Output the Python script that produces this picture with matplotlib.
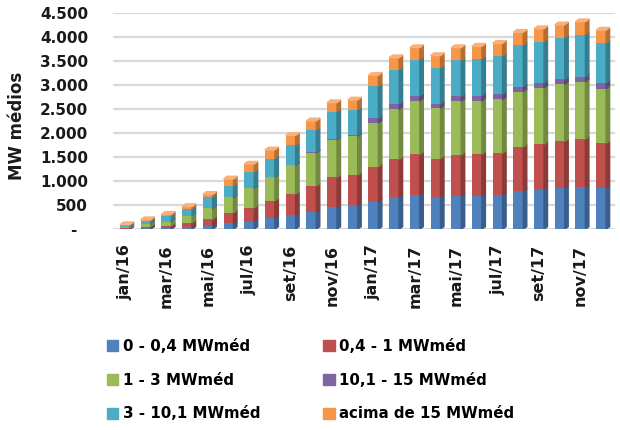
import matplotlib.pyplot as plt
from matplotlib.patches import Patch, Polygon
from matplotlib.ticker import FuncFormatter
import numpy as np

plt.rcParams['font.family'] = ['DejaVu Sans']
plt.rcParams['font.weight'] = 'bold'

meses = ['jan/16', 'fev/16', 'mar/16', 'abr/16', 'mai/16', 'jun/16',
         'jul/16', 'ago/16', 'set/16', 'out/16', 'nov/16', 'dez/16',
         'jan/17', 'fev/17', 'mar/17', 'abr/17', 'mai/17', 'jun/17',
         'jul/17', 'ago/17', 'set/17', 'out/17', 'nov/17', 'dez/17']

# MW médios por faixa de consumo (empilhados de baixo para cima)
faixa_0_04 = [10, 20, 25, 40, 65, 125, 160, 230, 295, 365, 455, 505,
              575, 665, 715, 665, 695, 700, 715, 795, 830, 865, 885, 865]
faixa_04_1 = [15, 35, 50, 95, 145, 220, 280, 365, 435, 535, 625, 625,
              730, 790, 845, 810, 850, 865, 865, 920, 940, 965, 990, 925]
faixa_1_3 = [30, 55, 85, 140, 225, 320, 415, 500, 605, 695, 790, 810,
             915, 1045, 1110, 1045, 1125, 1110, 1125, 1155, 1175, 1190, 1200, 1140]
faixa_101_15 = [0, 0, 0, 0, 5, 5, 5, 5, 10, 15, 20, 20,
                90, 105, 105, 95, 105, 110, 110, 105, 105, 105, 105, 120]
faixa_3_101 = [30, 60, 115, 155, 235, 230, 340, 375, 405, 455, 555, 535,
               670, 720, 760, 750, 745, 770, 790, 865, 860, 865, 875, 830]
faixa_acima_15 = [12, 30, 40, 45, 55, 150, 160, 180, 205, 195, 195, 200,
                  230, 250, 250, 255, 265, 260, 270, 265, 270, 270, 270, 270]

series = [
    ('0 - 0,4 MWméd', faixa_0_04, '#4F81BD', '#395E8C'),
    ('0,4 - 1 MWméd', faixa_04_1, '#C0504D', '#8C3A38'),
    ('1 - 3 MWméd', faixa_1_3, '#9BBB59', '#718A40'),
    ('10,1 - 15 MWméd', faixa_101_15, '#8064A2', '#5D4977'),
    ('3 - 10,1 MWméd', faixa_3_101, '#4BACC6', '#357E92'),
    ('acima de 15 MWméd', faixa_acima_15, '#F79646', '#B96E30'),
]

fig = plt.figure(figsize=(6.2, 4.3), dpi=100)
ax = fig.add_axes([113 / 620, 1 - 229.3 / 430, 502 / 620, 216 / 430])

x = np.arange(len(meses))
w = 0.48
dx, dy = 0.17, 55  # profundidade das faces laterais (efeito 3D)

for v in range(0, 5000, 500):
    ax.axhline(v, color='#D9D9D9', lw=1.6, zorder=0)

base = np.zeros(len(meses))
for nome, vals, cor, lado in series:
    vals = np.array(vals, dtype=float)
    ax.bar(x, vals, w, bottom=base, color=cor, zorder=2)
    for xi, b, h in zip(x, base, vals):
        if h <= 0:
            continue
        ax.add_patch(Polygon([(xi + w / 2, b), (xi + w / 2 + dx, b + dy),
                              (xi + w / 2 + dx, b + h + dy), (xi + w / 2, b + h)],
                             closed=True, color=lado, zorder=2))
    base += vals

# tampa superior das colunas
for xi, t in zip(x, base):
    ax.add_patch(Polygon([(xi - w / 2, t), (xi - w / 2 + dx, t + dy),
                          (xi + w / 2 + dx, t + dy), (xi + w / 2, t)],
                         closed=True, color='#F9B07A', zorder=3))

ax.set_xlim(-0.58, 23.67)
ax.set_ylim(0, 4500)
for s in ax.spines.values():
    s.set_visible(False)

ax.set_yticks(range(0, 5000, 500))
ax.yaxis.set_major_formatter(FuncFormatter(
    lambda v, p: '-  ' if v == 0 else f'{v:,.0f}'.replace(',', '.')))
ax.tick_params(axis='y', length=0, pad=18, labelsize=11, labelcolor='#1a1a1a')

ax.set_xticks(x[::2])
ax.set_xticklabels(meses[::2], rotation=90)
ax.tick_params(axis='x', length=0, pad=11, labelsize=11.5, labelcolor='#1a1a1a')

fig.text(17 / 620, 1 - 126 / 430, 'MW médios', rotation=90, ha='center',
         va='center', fontsize=12, fontweight='bold', color='#1a1a1a')

handles = [Patch(color=c) for _, _, c, _ in series]
labels = [n for n, _, _, _ in series]
ordem = [0, 2, 4, 1, 3, 5]
fig.legend([handles[i] for i in ordem], [labels[i] for i in ordem], ncol=2,
           loc='upper left', bbox_to_anchor=(107 / 620, 1 - 339 / 430),
           frameon=False, fontsize=10.8, handlelength=0.75, handleheight=0.75,
           handletextpad=0.3, columnspacing=4.2, labelspacing=1.25,
           borderaxespad=0, borderpad=0)

fig.savefig('out.png', dpi=100)
